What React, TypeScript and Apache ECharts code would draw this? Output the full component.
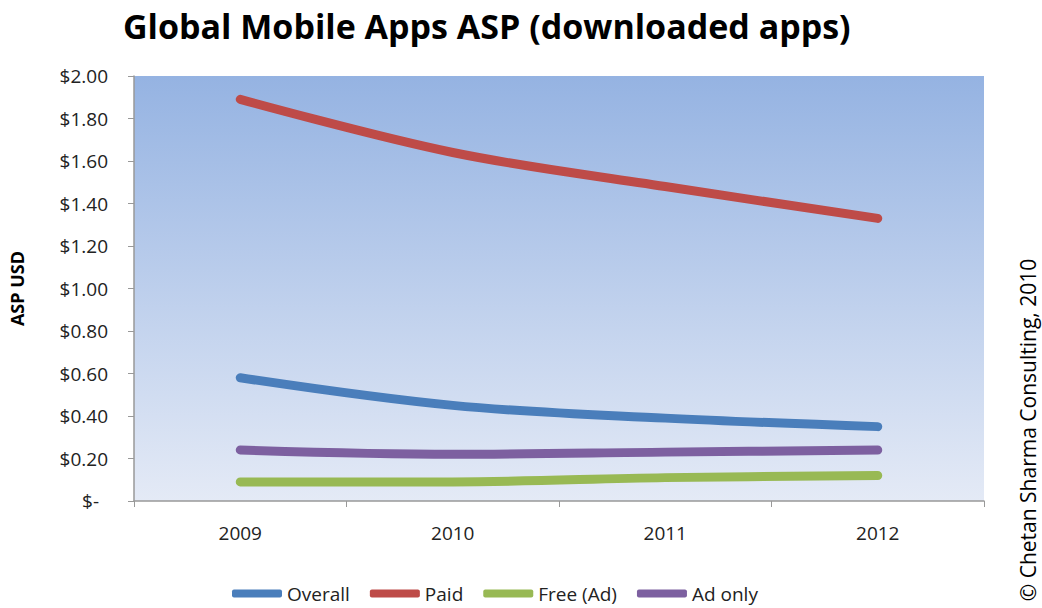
import React, { useEffect, useRef } from "react";
import * as echarts from "echarts";

const categories = ["2009", "2010", "2011", "2012"];
const overall = [0.58, 0.45, 0.39, 0.35];
const paid = [1.89, 1.64, 1.48, 1.33];
const freeAd = [0.09, 0.09, 0.11, 0.12];
const adOnly = [0.24, 0.22, 0.23, 0.24];
const seriesNames = ["Overall", "Paid", "Free (Ad)", "Ad only"];
const seriesColors = ["#4a7ebb", "#be4b48", "#98b954", "#7d60a0"];

const FONT = "'Open Sans', sans-serif";

export default function App() {
  const ref = useRef<HTMLDivElement>(null);
  useEffect(() => {
    if (!ref.current) return;
    const chart = echarts.init(ref.current, null, { renderer: "svg" });
    const values = [overall, paid, freeAd, adOnly];
    chart.setOption({
      animation: false,
      backgroundColor: "#ffffff",
      title: {
        text: "Global Mobile Apps ASP (downloaded apps)",
        left: 123,
        top: 7,
        padding: 0,
        textStyle: { fontFamily: FONT, fontSize: 34, lineHeight: 38, fontWeight: "bold", color: "#000" },
      },
      legend: {
        left: 232,
        top: 584,
        itemWidth: 50,
        itemHeight: 8,
        itemGap: 20,
        padding: 0,
        textStyle: { fontFamily: FONT, fontSize: 19, color: "#222" },
        data: seriesNames.map((n) => ({ name: n, icon: "roundRect" })),
      },
      grid: {
        left: 132,
        right: 58,
        top: 76,
        bottom: 107,
        show: true,
        borderWidth: 0,
        backgroundColor: new echarts.graphic.LinearGradient(0, 0, 0, 1, [
          { offset: 0, color: "#95b3e2" },
          { offset: 1, color: "#e4eaf6" },
        ]),
      },
      xAxis: {
        type: "category",
        data: categories,
        boundaryGap: true,
        axisLine: { lineStyle: { color: "#999", width: 1.5 } },
        axisTick: { show: true, length: 6, lineStyle: { color: "#999" } },
        axisLabel: { fontFamily: FONT, fontSize: 19, color: "#222", margin: 22 },
        splitLine: { show: false },
      },
      yAxis: {
        type: "value",
        min: 0,
        max: 2,
        interval: 0.2,
        name: "ASP USD",
        nameLocation: "middle",
        nameGap: 108,
        nameRotate: 90,
        nameTextStyle: { fontFamily: FONT, fontSize: 18, fontWeight: "bold", color: "#000" },
        axisLine: { show: true, lineStyle: { color: "#999", width: 1.5 } },
        axisTick: { show: true, length: 6, lineStyle: { color: "#999" } },
        splitLine: { show: false },
        axisLabel: {
          fontFamily: FONT,
          fontSize: 19,
          color: "#222",
          margin: 26,
          formatter: (v: number) => (v === 0 ? "{z|$-}" : "$" + v.toFixed(2)),
          rich: { z: { fontFamily: FONT, fontSize: 19, color: "#222", padding: [0, 9, 0, 0] } },
        },
      },
      graphic: [
        {
          type: "text",
          x: 1028,
          y: 430,
          rotation: Math.PI / 2,
          style: {
            text: "© Chetan Sharma Consulting, 2010",
            fontFamily: FONT,
            fontSize: 21,
            lineHeight: 24,
            fill: "#000",
            textAlign: "center",
            textVerticalAlign: "middle",
          },
        },
      ],
      series: seriesNames.map((n, i) => ({
        name: n,
        type: "line",
        data: values[i],
        smooth: 0.35,
        showSymbol: false,
        symbol: "none",
        color: seriesColors[i],
        lineStyle: { width: 9, color: seriesColors[i], cap: "round", join: "round" },
      })),
    });
    return () => chart.dispose();
  }, []);
  return <div ref={ref} style={{ width: 1042, height: 608, position: "absolute", left: 0, top: 0 }} />;
}
